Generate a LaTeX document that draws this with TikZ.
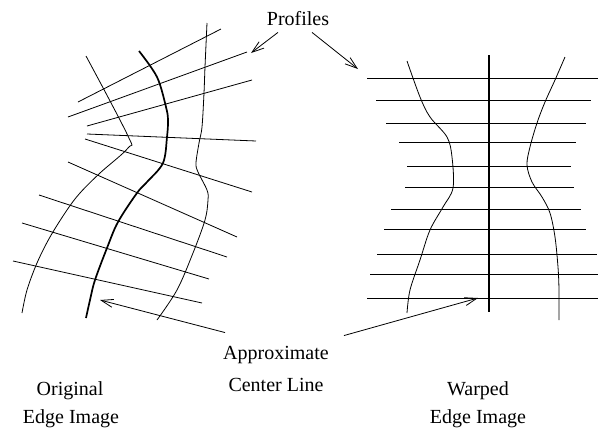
\documentclass[tikz,border=0pt]{standalone}
\usepackage{fontspec}
\setmainfont{Liberation Serif}
\usetikzlibrary{arrows.meta}
\tikzset{
  edge/.style={line width=0.8pt, smooth, tension=0.55},
  cline/.style={line width=1.7pt, smooth, tension=0.55},
  prof/.style={line width=0.8pt},
  pointer/.style={line width=0.8pt, -{Straight Barb[length=12pt,width=8pt]}},
  lbl/.style={font=\fontsize{20}{27}\selectfont, inner sep=0pt, anchor=base},
}

\begin{document}
\begin{tikzpicture}[x=1pt,y=-1pt]
  \useasboundingbox (0,0) rectangle (598,429);
  % original edge image
  \foreach \xa/\ya/\xb/\yb in {78/102/221/29, 68/117/247/52, 87/126/252/80, 87/134/256/141,
    85/139/252/192, 68/162/237/237, 39/195/227/257, 22/223/209/279, 13/261/202/303}
    \draw[prof] (\xa,\ya) -- (\xb,\yb);
  \draw[edge] plot coordinates {(86,56) (128,136) (128,148) (100,173) (80,193) (67,210)
    (50,237) (37,263) (27,290) (22,313)};
  \draw[cline] plot coordinates {(139,51) (157,77) (166,107) (168,120) (167,137) (163,163)
    (147,182) (137,193) (118,222) (107,248) (95,280) (90,300) (86,318)};
  \draw[edge] plot coordinates {(207,23) (205,67) (204,93) (202,127) (199,143) (196,163)
    (198,172) (207,190) (208,200) (205,220) (193,253) (177,290) (157,320)};
  % warped edge image
  \foreach \y/\xa/\xb in {78/367/598, 100/376/591, 123/386/586, 142/399/576, 166/407/571,
    187/405/574, 209/391/581, 229/384/586, 254/377/597, 274/370/598, 298/367/598}
    \draw[prof] (\xa,\y) -- (\xb,\y);
  \draw[cline] (489,55) -- (489,312);
  \draw[edge] plot coordinates {(407,61) (420,97) (430,117) (447,137) (452,157) (453,188)
    (443,207) (430,230) (420,260) (410,290) (407,313)};
  \draw[edge] plot coordinates {(565,57) (555,80) (545,102) (537,123) (530,147) (527,165)
    (532,182) (542,197) (550,213) (555,237) (558,267) (559,290) (559,320)};
  % labels
  \node[lbl] (profiles) at (298,25) {Profiles};
  \node[lbl] (apx) at (276,359) {Approximate};
  \node[lbl] (cl) at (276,391) {Center Line};
  \node[lbl] (orig) at (70,395) {Original};
  \node[lbl] (origb) at (71,423) {Edge Image};
  \node[lbl] (warp) at (478,395) {Warped};
  \node[lbl] (warpb) at (478,423) {Edge Image};
  \coordinate (proftipL) at (251,53);
  \coordinate (proftipR) at (358,69);
  \coordinate (cltipL) at (100,300);
  \coordinate (cltipR) at (478,298);
  \draw[pointer] ([xshift=-20pt,yshift=-7pt]profiles.south) -- (proftipL);
  \draw[pointer] ([xshift=14pt,yshift=-7pt]profiles.south) -- (proftipR);
  \draw[pointer] ([xshift=2pt,yshift=13pt]apx.north west) -- (cltipL);
  \draw[pointer] ([xshift=15pt,yshift=10pt]apx.north east) -- (cltipR);
\end{tikzpicture}
\end{document}
